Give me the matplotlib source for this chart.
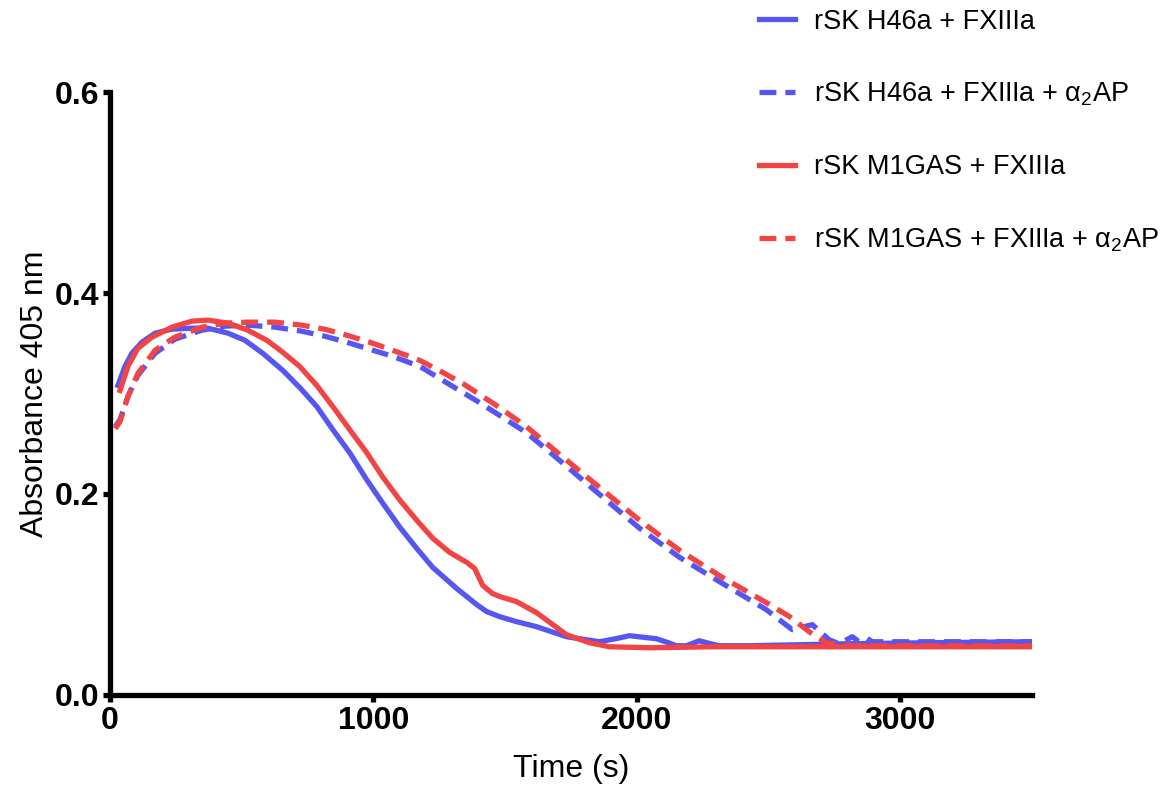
import matplotlib
matplotlib.use("Agg")
import matplotlib.pyplot as plt

plt.rcParams["font.family"] = ["Liberation Sans", "DejaVu Sans"]
plt.rcParams["mathtext.fontset"] = "custom"
plt.rcParams["mathtext.rm"] = "Liberation Sans"

BLUE = "#5656f2"
RED = "#f24444"

# rSK H46a + FXIIIa
t_h46 = [30, 57, 83, 121, 171, 235, 311, 372, 448, 512, 580, 656, 720, 785, 846,
         910, 975, 1035, 1100, 1164, 1225, 1316, 1392, 1430, 1479, 1543, 1619,
         1733, 1858, 1920, 1972, 2074, 2120, 2150, 2188, 2237, 2280, 2313, 2427,
         2800, 3100, 3500]
a_h46 = [0.308, 0.327, 0.340, 0.351, 0.360, 0.364, 0.365, 0.365, 0.360, 0.353,
         0.340, 0.323, 0.306, 0.287, 0.264, 0.241, 0.214, 0.191, 0.167, 0.146,
         0.127, 0.106, 0.090, 0.083, 0.078, 0.073, 0.068, 0.058, 0.053, 0.056,
         0.059, 0.056, 0.052, 0.049, 0.049, 0.054, 0.051, 0.049, 0.049, 0.051,
         0.052, 0.053]

# rSK H46a + FXIIIa + a2AP
t_h46_ap = [20, 38, 68, 106, 171, 246, 349, 436, 523, 626, 728, 815, 899, 986,
            1073, 1176, 1251, 1415, 1581, 1718, 1870, 2010, 2162, 2325, 2491,
            2590, 2666, 2730, 2768, 2818, 2844, 2870, 2894, 3000, 3500]
a_h46_ap = [0.267, 0.274, 0.297, 0.318, 0.340, 0.354, 0.363, 0.367, 0.368, 0.366,
            0.362, 0.357, 0.351, 0.344, 0.337, 0.327, 0.315, 0.289, 0.261, 0.231,
            0.197, 0.166, 0.137, 0.111, 0.085, 0.065, 0.070, 0.055, 0.051, 0.058,
            0.053, 0.057, 0.053, 0.053, 0.053]

# rSK M1GAS + FXIIIa
t_m1 = [38, 68, 106, 159, 235, 311, 372, 448, 523, 595, 656, 720, 785, 846, 910,
        975, 1035, 1100, 1164, 1225, 1289, 1354, 1384, 1415, 1452, 1479, 1543,
        1619, 1733, 1820, 1896, 2048, 2300, 2800, 3500]
a_m1 = [0.303, 0.327, 0.345, 0.356, 0.366, 0.372, 0.373, 0.370, 0.363, 0.353,
        0.341, 0.327, 0.308, 0.287, 0.264, 0.241, 0.217, 0.194, 0.174, 0.156,
        0.142, 0.132, 0.126, 0.109, 0.101, 0.098, 0.093, 0.082, 0.060, 0.052,
        0.048, 0.047, 0.048, 0.048, 0.048]

# rSK M1GAS + FXIIIa + a2AP
t_m1_ap = [20, 38, 68, 106, 171, 246, 349, 436, 523, 626, 728, 815, 899, 986,
           1073, 1176, 1263, 1339, 1415, 1479, 1581, 1718, 1870, 2010, 2162, 2325,
           2491, 2580, 2654, 2719, 2800, 3500]
a_m1_ap = [0.265, 0.272, 0.297, 0.320, 0.343, 0.356, 0.366, 0.370, 0.371, 0.371,
           0.368, 0.364, 0.358, 0.351, 0.343, 0.333, 0.321, 0.310, 0.297, 0.286,
           0.267, 0.237, 0.204, 0.174, 0.144, 0.117, 0.092, 0.078, 0.063, 0.052,
           0.049, 0.049]

labels = [
    "rSK H46a + FXIIIa",
    r"rSK H46a + FXIIIa + $\mathregular{\alpha_2}$AP",
    "rSK M1GAS + FXIIIa",
    r"rSK M1GAS + FXIIIa + $\mathregular{\alpha_2}$AP",
]

fig = plt.figure(figsize=(11.74, 7.87), dpi=100)
ax = fig.add_axes([0.0937, 0.1169, 0.7853, 0.7662])

lw = 3.8
dash = (3.2, 1.7)
l1, = ax.plot(t_h46, a_h46, color=BLUE, lw=lw, solid_joinstyle="round")
l2, = ax.plot(t_h46_ap, a_h46_ap, color=BLUE, lw=lw, dashes=dash)
l3, = ax.plot(t_m1, a_m1, color=RED, lw=lw, solid_joinstyle="round")
l4, = ax.plot(t_m1_ap, a_m1_ap, color=RED, lw=lw, dashes=dash)

ax.set_xlim(0, 3500)
ax.set_ylim(0, 0.6)
ax.set_xticks([0, 1000, 2000, 3000])
ax.set_yticks([0.0, 0.2, 0.4, 0.6])
ax.set_yticklabels(["0.0", "0.2", "0.4", "0.6"])

for side in ["top", "right"]:
    ax.spines[side].set_visible(False)
for side in ["left", "bottom"]:
    ax.spines[side].set_linewidth(3.8)
ax.tick_params(width=3.8, length=5, direction="out", labelsize=23, pad=3)
for lab in ax.get_xticklabels() + ax.get_yticklabels():
    lab.set_fontweight("bold")

ax.set_xlabel("Time (s)", fontsize=23, labelpad=13)
ax.set_ylabel("Absorbance 405 nm", fontsize=23, labelpad=3)

fig.legend([l1, l2, l3, l4], labels, loc="upper left",
           bbox_to_anchor=(0.626, 1.02), frameon=False, fontsize=19.5,
           handlelength=1.3, handletextpad=0.72, labelspacing=1.7)

fig.savefig("out.png", dpi=100)
